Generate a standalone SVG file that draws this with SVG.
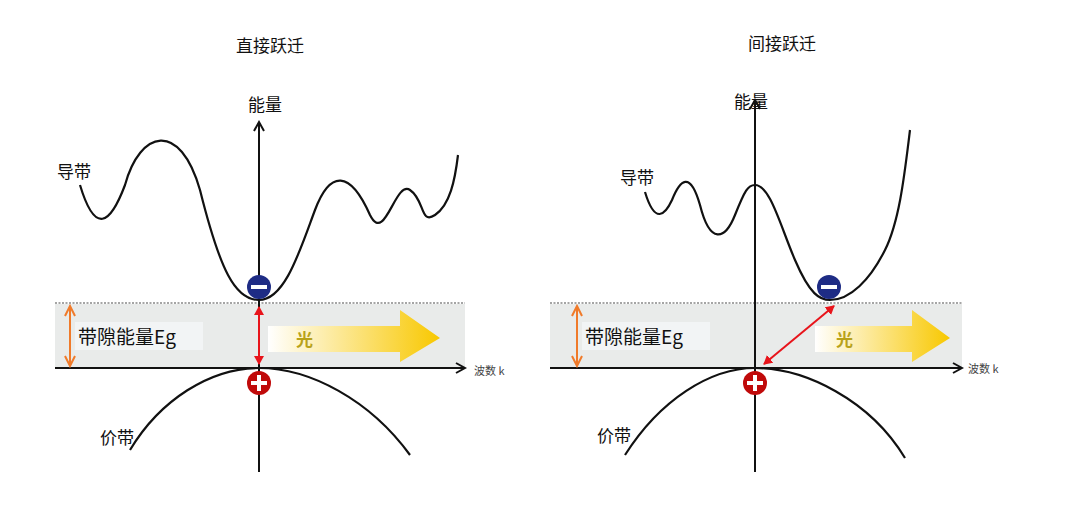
<svg xmlns="http://www.w3.org/2000/svg" width="1080" height="513" viewBox="0 0 1080 513">
<style>
text{font-family:"Noto Sans CJK SC","Liberation Sans",sans-serif;fill:#111}
.t{font-size:17px}
.c{fill:none;stroke:#111;stroke-width:2.2}
.ax{stroke:#111;stroke-width:2;fill:none}
.band{fill:#e9ebea}
.dot{stroke:#888;stroke-width:1.5;stroke-dasharray:2 1.5}
</style>
<defs>
<marker id="ah" markerWidth="12" markerHeight="12" refX="10" refY="6" orient="auto" markerUnits="userSpaceOnUse"><path d="M1,1 L10,6 L1,11" fill="none" stroke="#111" stroke-width="2"/></marker>
<marker id="ro" markerWidth="10" markerHeight="10" refX="8" refY="5" orient="auto-start-reverse" markerUnits="userSpaceOnUse"><path d="M0,0 L9,5 L0,10 z" fill="#e8141b"/></marker>
<marker id="oo" markerWidth="14" markerHeight="12" refX="11" refY="6" orient="auto-start-reverse" markerUnits="userSpaceOnUse"><path d="M1,1 L11,6 L1,11" fill="none" stroke="#f07a2a" stroke-width="2"/></marker>
<linearGradient id="yg" x1="0" x2="1"><stop offset="0" stop-color="#fff"/><stop offset="1" stop-color="#f8c800"/></linearGradient>
</defs>
<g id="left">
<rect class="band" x="55" y="304" width="410" height="64"/>
<line class="dot" x1="55" y1="303" x2="465" y2="303"/>
<rect x="75" y="322" width="128" height="28" fill="#f2f4f5"/>
<path d="M268,326 H400 V310 L440,338 L400,362 V352 H268 Z" fill="url(#yg)"/>
<text x="296" y="346" font-size="17" font-weight="bold" style="fill:#b8a21a">光</text>
</g>
<g id="right">
<rect class="band" x="550" y="304" width="412" height="64"/>
<line class="dot" x1="550" y1="303" x2="962" y2="303"/>
<rect x="582" y="322" width="128" height="28" fill="#f2f4f5"/>
<path d="M815,326 H912 V310 L950,338 L912,362 V352 H815 Z" fill="url(#yg)"/>
<text x="836" y="346" font-size="17" font-weight="bold" style="fill:#b8a21a">光</text>
</g>
<g id="connectors">
<line class="ax" x1="259" y1="472" x2="259" y2="122" marker-end="url(#ah)"/>
<line class="ax" x1="55" y1="368" x2="465" y2="368" marker-end="url(#ah)"/>
<path class="c" d="M80,185 C95,235 110,225 125,185 C140,130 180,120 200,190 C220,270 235,300 259,300 C285,300 300,250 315,210 C330,170 350,170 370,215 C385,245 395,180 410,190 C425,200 420,225 435,215 C450,205 455,180 458,155"/>
<path class="c" d="M130,450 C160,400 210,368 259,368 C310,368 370,400 410,455"/>
<line x1="259" y1="307" x2="259" y2="364" stroke="#e8141b" stroke-width="2" marker-start="url(#ro)" marker-end="url(#ro)"/>
<line x1="70" y1="306" x2="70" y2="366" stroke="#f07a2a" stroke-width="2" marker-start="url(#oo)" marker-end="url(#oo)"/>
<line class="ax" x1="755" y1="472" x2="755" y2="100" marker-end="url(#ah)"/>
<line class="ax" x1="550" y1="368" x2="962" y2="368" marker-end="url(#ah)"/>
<path class="c" d="M645,192 C655,225 665,215 672,200 C680,180 690,170 700,205 C710,245 725,240 735,215 C745,190 748,185 755,185 C770,185 780,225 795,260 C810,295 820,300 830,300 C850,300 870,280 885,250 C900,220 905,170 910,130"/>
<path class="c" d="M625,455 C660,400 710,368 755,368 C805,368 870,400 905,458"/>
<line x1="764" y1="364" x2="834" y2="306" stroke="#e8141b" stroke-width="2" marker-start="url(#ro)" marker-end="url(#ro)"/>
<line x1="577" y1="306" x2="577" y2="366" stroke="#f07a2a" stroke-width="2" marker-start="url(#oo)" marker-end="url(#oo)"/>
</g>
<g id="particles">
<circle cx="259" cy="287" r="12" fill="#1e2c85"/><rect x="251" y="285" width="16" height="4" fill="#fff"/>
<circle cx="259" cy="383" r="12" fill="#c00a0a"/><rect x="251" y="381" width="16" height="4" fill="#fff"/><rect x="257" y="375" width="4" height="16" fill="#fff"/>
<circle cx="829" cy="287" r="12" fill="#1e2c85"/><rect x="821" y="285" width="16" height="4" fill="#fff"/>
<circle cx="755" cy="383" r="12" fill="#c00a0a"/><rect x="747" y="381" width="16" height="4" fill="#fff"/><rect x="753" y="375" width="4" height="16" fill="#fff"/>
</g>
<g id="labels">
<text class="t" x="236" y="52" font-size="16">直接跃迁</text>
<text class="t" x="748" y="50" font-size="16">间接跃迁</text>
<text class="t" x="248" y="111">能量</text>
<text class="t" x="734" y="108">能量</text>
<text class="t" x="57" y="178">导带</text>
<text class="t" x="620" y="184">导带</text>
<text class="t" x="100" y="444">价带</text>
<text class="t" x="597" y="442">价带</text>
<text x="78" y="344" font-size="19">带隙能量Eg</text>
<text x="585" y="344" font-size="19">带隙能量Eg</text>
<text x="474" y="375" font-size="11" style="fill:#444">波数 k</text>
<text x="968" y="373" font-size="11" style="fill:#444">波数 k</text>
</g>
</svg>
